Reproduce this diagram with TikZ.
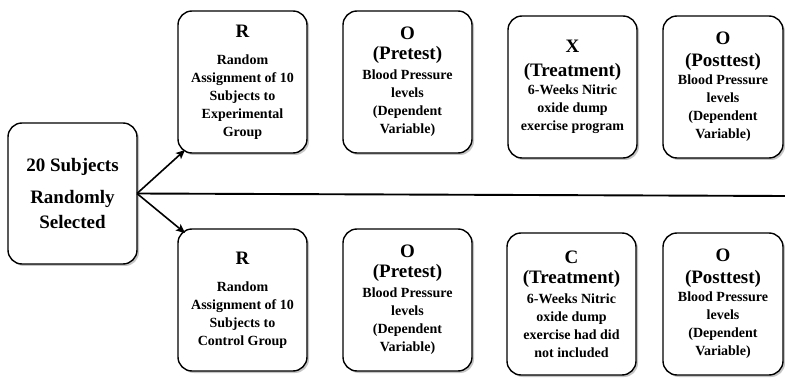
\documentclass[tikz,border=0pt]{standalone}
\usepackage{fontspec}
\setmainfont{Liberation Serif}
\usetikzlibrary{arrows.meta, positioning, shadows}
\newcommand{\headline}[1]{{\fontsize{19}{20}\selectfont #1}}

\begin{document}
\begin{tikzpicture}[
    x=1pt, y=-1pt,
    node distance=36pt,
    stage/.style={rectangle, draw, line width=1.4pt, rounded corners=14pt, fill=white,
        drop shadow={shadow xshift=2pt, shadow yshift=-2pt, fill=black!45},
        minimum width=129pt, minimum height=142pt, outer sep=0pt,
        align=center, font=\fontsize{14}{18}\selectfont\bfseries},
    arrow/.style={line width=1.6pt,-{Stealth[length=9pt,width=8pt,inset=2pt]}}
]
    \useasboundingbox (0,0) rectangle (785,382);

    \node[stage, minimum height=141pt, font=\fontsize{19}{25}\selectfont\bfseries] (subjects) at (72.5,193.5) {20 Subjects\\[7pt] Randomly\\ Selected};

    \node[stage] (rtop) at (242.5,82) {\headline{R}\\[9pt] Random\\ Assignment of 10\\ Subjects to\\ Experimental\\ Group};
    \node[stage, right=of rtop] (pretop) {\headline{O}\\[2pt] \headline{(Pretest)}\\[2pt] Blood Pressure\\ levels\\ (Dependent\\ Variable)};
    \node[stage, right=of pretop, yshift=-5pt] (xtop) {\headline{X}\\[6pt] \headline{(Treatment)}\\ 6-Weeks Nitric\\ oxide dump\\ exercise program};
    \node[stage, right=26pt of xtop, minimum width=120pt] (posttop) {\headline{O}\\[4pt] \headline{(Posttest)}\\ Blood Pressure\\ levels\\ (Dependent\\ Variable)};

    \node[stage] (rbot) at (242.5,300) {\headline{R}\\[9pt] Random\\ Assignment of 10\\ Subjects to\\ Control Group};
    \node[stage, right=of rbot] (prebot) {\headline{O}\\[2pt] \headline{(Pretest)}\\[2pt] Blood Pressure\\ levels\\ (Dependent\\ Variable)};
    \node[stage, right=35pt of prebot, yshift=-4pt] (cbot) {\headline{C}\\[2pt] \headline{(Treatment)}\\[2pt] 6-Weeks Nitric\\ oxide dump\\ exercise had did\\ not included};
    \node[stage, right=27pt of cbot, minimum width=120pt] (postbot) {\headline{O}\\[4pt] \headline{(Posttest)}\\ Blood Pressure\\ levels\\ (Dependent\\ Variable)};

    \coordinate (lineend) at (785,196);

    % Arrows
    \draw[arrow] (subjects.east) -- ([xshift=7pt,yshift=3pt]rtop.south west);
    \draw[arrow] (subjects.east) -- ([xshift=7pt,yshift=-4pt]rbot.north west);
    \draw[line width=1.9pt] (subjects.east) -- (lineend);
\end{tikzpicture}
\end{document}
